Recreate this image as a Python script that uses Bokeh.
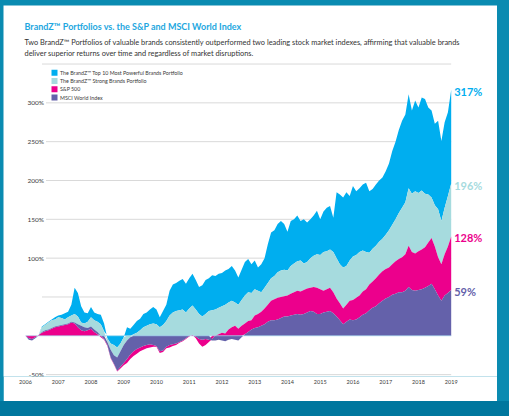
from bokeh.plotting import figure
from bokeh.models import Range1d, FixedTicker, ColumnDataSource, GlobalInlineStyleSheet
from bokeh.core.properties import value
from bokeh.embed import file_html
from bokeh.resources import INLINE

# ---------------- data ----------------
years = [
    2006.0, 2006.1, 2006.2, 2006.3, 2006.4, 2006.5, 2006.6, 2006.7, 2006.8, 2006.9,
    2007.0, 2007.1, 2007.2, 2007.3, 2007.4, 2007.5, 2007.6, 2007.7, 2007.8, 2007.9,
    2008.0, 2008.1, 2008.2, 2008.3, 2008.4, 2008.5, 2008.6, 2008.7, 2008.8, 2008.9,
    2009.0, 2009.1, 2009.2, 2009.3, 2009.4, 2009.5, 2009.6, 2009.7, 2009.8, 2009.9,
    2010.0, 2010.1, 2010.2, 2010.3, 2010.4, 2010.5, 2010.6, 2010.7, 2010.8, 2010.9,
    2011.0, 2011.1, 2011.2, 2011.3, 2011.4, 2011.5, 2011.6, 2011.7, 2011.8, 2011.9,
    2012.0, 2012.1, 2012.2, 2012.3, 2012.4, 2012.5, 2012.6, 2012.7, 2012.8, 2012.9,
    2013.0, 2013.1, 2013.2, 2013.3, 2013.4, 2013.5, 2013.6, 2013.7, 2013.8, 2013.9,
    2014.0, 2014.1, 2014.2, 2014.3, 2014.4, 2014.5, 2014.6, 2014.7, 2014.8, 2014.9,
    2015.0, 2015.1, 2015.2, 2015.3, 2015.4, 2015.5, 2015.6, 2015.7, 2015.8, 2015.9,
    2016.0, 2016.1, 2016.2, 2016.3, 2016.4, 2016.5, 2016.6, 2016.7, 2016.8, 2016.9,
    2017.0, 2017.1, 2017.2, 2017.3, 2017.4, 2017.5, 2017.6, 2017.7, 2017.8, 2017.9,
    2018.0, 2018.1, 2018.2, 2018.3, 2018.4, 2018.5, 2018.6, 2018.7, 2018.8, 2018.9,
    2019.0,
]

top10 = [
    0, 0, 0, 0, 1, 12, 15, 18, 21, 24,
    26, 27, 29, 31, 40, 62, 55, 38, 30, 29,
    37, 30, 28, 27, 16, -3, -10, -12, -15, -10,
    -2, 11, 9, 14, 19, 22, 28, 30, 34, 37,
    34, 24, 32, 40, 58, 66, 68, 71, 73, 67,
    74, 80, 72, 63, 65, 72, 74, 78, 77, 80,
    81, 84, 86, 90, 84, 75, 85, 95, 99, 92,
    97, 88, 92, 100, 118, 133, 136, 144, 148, 144,
    134, 148, 150, 155, 148, 150, 146, 150, 155, 161,
    150, 160, 165, 167, 152, 185, 182, 178, 185, 180,
    193, 186, 190, 195, 197, 186, 189, 195, 200, 204,
    212, 222, 238, 250, 265, 277, 285, 311, 290, 303,
    294, 307, 305, 294, 290, 273, 277, 251, 275, 288,
    317,
]

strong = [
    0, 0, 0, 0, 1, 11, 14, 17, 20, 21,
    24, 23, 21, 24, 26, 28, 25, 17, 16, 18,
    24, 20, 18, 15, 6, -8, -18, -25, -28, -20,
    -12, -6, -2, 2, 4, 7, 11, 13, 15, 16,
    15, 11, 14, 19, 26, 30, 32, 33, 34, 30,
    35, 39, 34, 28, 25, 28, 32, 33, 34, 36,
    38, 40, 43, 45, 43, 40, 46, 52, 56, 55,
    60, 58, 56, 62, 68, 74, 77, 82, 84, 85,
    84, 90, 93, 96, 97, 93, 95, 100, 103, 105,
    104, 108, 109, 111, 108, 100, 92, 88, 90, 97,
    102, 104, 108, 110, 108, 107, 112, 116, 121, 125,
    130, 136, 143, 150, 158, 165, 172, 190, 183, 186,
    184, 187, 183, 182, 178, 168, 163, 148, 165, 180,
    196,
]

sp500 = [
    0, -3, -4, -2, 1, 4, 6, 7, 9, 11,
    12, 13, 14, 15, 17, 16, 11, 7, 6, 7,
    9, 5, 2, -2, -5, -13, -29, -37, -46, -42,
    -38, -35, -30, -26, -23, -20, -18, -16, -15, -14,
    -14, -22, -21, -16, -15, -13, -12, -9, -7, -4,
    -1, 1, -3, -10, -14, -12, -8, -4, 0, 2,
    4, 3, 8, 11, 13, 9, 13, 16, 19, 20,
    26, 28, 31, 35, 40, 45, 47, 49, 50, 51,
    52, 54, 56, 58, 57, 59, 61, 62, 63, 62,
    60, 58, 60, 62, 56, 48, 42, 35, 40, 45,
    46, 49, 52, 57, 60, 66, 70, 74, 79, 83,
    86, 88, 92, 96, 99, 101, 105, 116, 108, 106,
    109, 111, 114, 120, 126, 115, 101, 92, 105, 115,
    128,
]

msci = [
    0, -5, -6, -3, 0, 5, 7, 8, 10, 12,
    13, 14, 15, 16, 18, 17, 15, 13, 11, 10,
    12, 8, 5, 0, -4, -12, -28, -36, -45, -40,
    -35, -30, -24, -20, -17, -15, -13, -12, -11, -12,
    -13, -20, -19, -14, -12, -11, -10, -8, -6, -3,
    0, 0, -1, -4, -5, -4, -5, -6, -6, -5,
    -6, -7, -5, -4, -5, -6, -2, 2, 5, 8,
    10, 11, 13, 15, 18, 20, 20, 21, 23, 25,
    25, 26, 27, 28, 27, 28, 30, 32, 31, 28,
    28, 30, 31, 32, 29, 25, 20, 15, 18, 21,
    20, 21, 24, 27, 29, 33, 36, 38, 42, 45,
    48, 50, 53, 54, 56, 56, 58, 63, 59, 58,
    59, 60, 62, 64, 67, 60, 52, 45, 52, 55,
    59,
]

series_names = [
    "The BrandZ\u2122 Top 10 Most Powerful Brands Portfolio",
    "The BrandZ\u2122 Strong Brands Portfolio",
    "S&P 500",
    "MSCI World Index",
]
series_colors = ["#00aeef", "#a6dbde", "#ec008c", "#6461aa"]
end_labels = ["317%", "196%", "128%", "59%"]

year_ticks = [2006, 2007, 2008, 2009, 2010, 2011, 2012, 2013, 2014, 2015, 2016, 2017, 2018, 2019]
grid_values = [350, 300, 250, 200, 150, 100, 50, -50]
tick_labels = {300: "300%", 250: "250%", 200: "200%", 150: "150%", 100: "100%", -50: "-50%"}

title_text = "BrandZ\u2122 Portfolios vs. the S&P and MSCI World Index"
subtitle_lines = [
    "Two BrandZ\u2122 Portfolios of valuable brands consistently outperformed two leading stock market indexes, affirming that valuable brands",
    "deliver superior returns over time and regardless of market disruptions.",
]

# ---------------- layout helpers ----------------
W, H = 494, 396           # white card
FRAME_H = 371
X0PX, X1PX = 22.0, 447.7  # figure px of 2006 / 2019
SX = (X1PX - X0PX) / 13.0
ZPX = 330.3               # figure px of 0%
SY = 0.7765

x_start = 2006 - X0PX / SX
x_end = 2019 + (W - X1PX) / SX
y_end = ZPX / SY
y_start = -(FRAME_H - ZPX) / SY


def dx(px):  # page px -> data x
    return x_start + (px - 3) / SX


def dy(py):  # page px -> data y
    return y_end - (py - 5) / SY


FONT = value("Lato")
TXT = "#3a3a3a"

css = GlobalInlineStyleSheet(css=(
    "html{height:100%;background:linear-gradient(to bottom,#0a8bb1 0px,#0a8bb1 401px,"
    "#00779e 401px,#00779e 100%) no-repeat;background-color:#00779e;}"
    "body{margin:5px 0 0 3px;background:transparent;overflow:hidden;}"
))

p = figure(width=W, height=H, x_range=Range1d(x_start, x_end), y_range=Range1d(y_start, y_end),
           output_backend="svg", toolbar_location=None, y_axis_location=None,
           min_border_left=0, min_border_right=0, min_border_top=0, min_border_bottom=H - FRAME_H)
p.stylesheets = [css]
p.outline_line_color = None
p.background_fill_color = "white"
p.border_fill_color = "white"
p.xgrid.visible = False
p.ygrid.visible = False

ax = p.xaxis[0]
ax.ticker = FixedTicker(ticks=year_ticks)
ax.axis_line_color = None
ax.major_tick_line_color = None
ax.minor_tick_line_color = None
ax.major_tick_out = 0
ax.major_tick_in = 0
ax.minor_tick_out = 0
ax.major_label_standoff = 3
ax.major_label_text_font = "Lato"
ax.major_label_text_font_size = "5.5px"
ax.major_label_text_color = TXT

# gridlines
g_start = [dx(41.5) if v not in tick_labels else dx(45.5) for v in grid_values]
p.segment(x0=g_start, y0=grid_values, x1=[year_ticks[-1]] * len(grid_values), y1=grid_values,
          line_color="#d9d9d9", line_width=1)

# y tick labels
lab_vals = list(tick_labels.keys())
p.text(x=[dx(43.5)] * len(lab_vals), y=lab_vals, text=[tick_labels[v] for v in lab_vals],
       text_align="right", text_baseline="middle", text_font=FONT, text_font_size="6.5px",
       text_color=TXT)

# areas: each series shows the band between its value and the next series of the same
# sign closer to zero (smaller magnitude series sit in front)
all_series = [top10, strong, sp500, msci]
n = len(all_series)
lowers = [[0.0] * len(years) for _ in range(n)]
for k in range(len(years)):
    for i in range(n):
        v = all_series[i][k]
        best = 0.0
        for j in range(n):
            if j == i:
                continue
            w = all_series[j][k]
            if v > 0 and (0 < w < v or (w == v and j > i)):
                best = max(best, w)
            elif v < 0 and (v < w < 0 or (w == v and j > i)):
                best = min(best, w)
        lowers[i][k] = best

for i in range(n):
    src = ColumnDataSource(dict(x=years, lo=lowers[i], hi=all_series[i]))
    p.varea(x="x", y1="lo", y2="hi", source=src, fill_color=series_colors[i])

# zero line
p.segment(x0=[years[0]], y0=[0], x1=[years[-1]], y1=[0], line_color="#9ad6f0", line_width=0.8,
          line_alpha=0.8)

# end labels
end_vals = [s[-1] for s in all_series]
p.text(x=[years[-1]] * 4, y=end_vals, text=end_labels, x_offset=3, y_offset=1.5,
       text_align="left", text_baseline="middle", text_font=FONT, text_font_style="bold",
       text_font_size="11px", text_color=series_colors)

# title + subtitle
p.text(x=[dx(24)], y=[dy(26.3)], text=[title_text], text_baseline="middle", text_font=FONT,
       text_font_style="bold", text_font_size="9px", text_color="#1ea7e0")
p.text(x=[dx(24)] * 2, y=[dy(42.3), dy(52.8)], text=subtitle_lines, text_baseline="middle",
       text_font=FONT, text_font_size="7.4px", text_color="#333333")

# legend
leg_y = [dy(72.2), dy(80.5), dy(88.8), dy(97.1)]
p.rect(x=[dx(54)] * 4, y=leg_y, width=6, height=6, width_units="screen", height_units="screen",
       fill_color=series_colors, line_color=None)
p.text(x=[dx(59.5)] * 4, y=leg_y, text=series_names, text_baseline="middle", text_font=FONT,
       text_font_size="5.3px", text_color=TXT)

open("out.html", "w").write(file_html(p, INLINE))
